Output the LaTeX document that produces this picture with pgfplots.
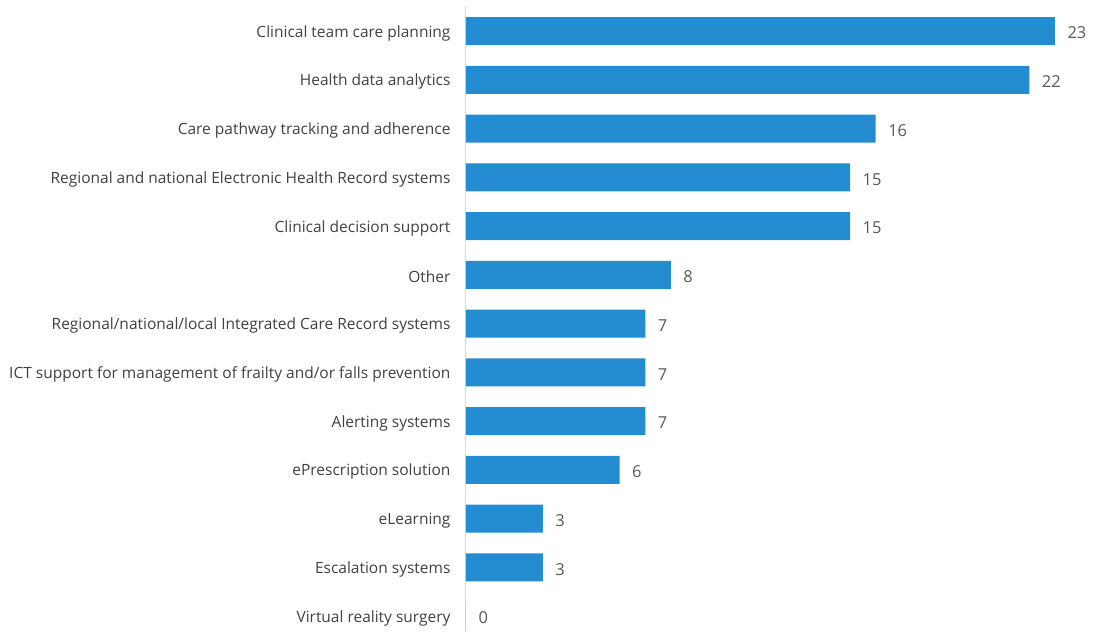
\documentclass[border=0pt]{standalone}
\usepackage{fontspec}
\setmainfont{Open Sans}
\usepackage{pgfplots}
\pgfplotsset{compat=1.18}
\definecolor{barblue}{RGB}{36,140,208}
\definecolor{labgray}{RGB}{64,64,64}
\definecolor{valgray}{RGB}{89,89,89}
\definecolor{axgray}{RGB}{217,217,217}
\begin{document}
\begin{tikzpicture}[x=1pt,y=1pt]
\useasboundingbox (-466,0) rectangle (629,632);
\begin{axis}[
  at={(0,0)}, anchor=south west,
  scale only axis,
  width=614.6pt, height=626pt,
  xmin=0, xmax=24,
  ymin=-0.328, ymax=12.513,
  xbar, bar width=28pt,
  axis x line=none,
  axis y line*=left,
  y axis line style={draw=axgray, line width=1pt, -},
  ytick={0,...,12},
  yticklabels={Virtual reality surgery, Escalation systems, eLearning, ePrescription solution, Alerting systems, ICT support for management of frailty and/or falls prevention, Regional/national/local Integrated Care Record systems, Other, Clinical decision support, Regional and national Electronic Health Record systems, Care pathway tracking and adherence, Health data analytics, Clinical team care planning},
  major tick length=0pt,
  yticklabel style={font=\fontsize{15.5}{17}\selectfont, text=labgray, xshift=-12pt, yshift=-2pt},
  /pgf/number format/assume math mode=true,
  nodes near coords,
  nodes near coords style={font=\fontsize{16.5}{19}\selectfont, text=valgray, anchor=west, xshift=9pt, yshift=-2pt},
  clip=false,
]
\addplot[fill=barblue, draw=none] coordinates {
(0,0) (3,1) (3,2) (6,3) (7,4) (7,5) (7,6) (8,7) (15,8) (15,9) (16,10) (22,11) (23,12)
};
\end{axis}
\end{tikzpicture}
\end{document}
